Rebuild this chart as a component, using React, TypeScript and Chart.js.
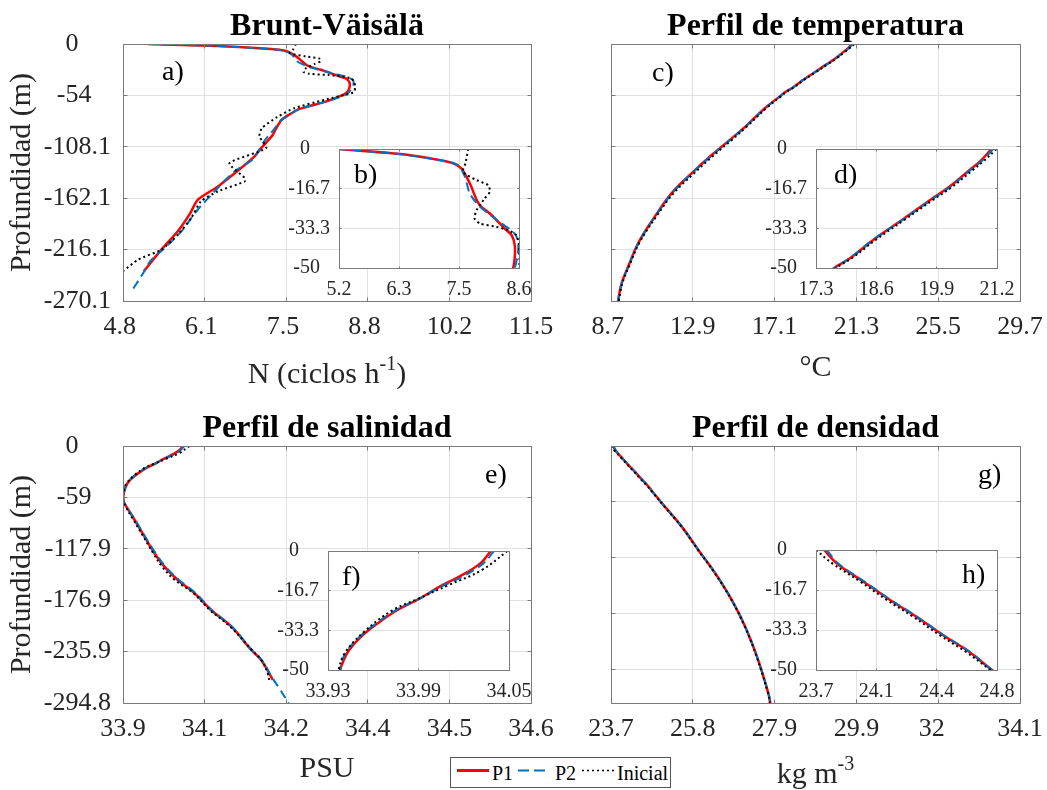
import React, { useEffect, useRef } from 'react';
import { Chart, registerables } from 'chart.js';

Chart.register(...registerables);

const FONT = '"Liberation Serif", "Times New Roman", Times, serif';
const RED = '#ff0000';
const BLUE = '#0072bd';
const BLACK = '#000000';
const GRID = '#e1e1e1';
const BOX = '#7a7a7a';
const TXT = '#262626';

// ---------- Brunt-Väisälä (N, ciclos h-1) ----------
const bvRange = [4.8, 11.5];
const bvDepthRange = [-270.125, 0];
const bvTicks = ['4.8', '6.1', '7.5', '8.8', '10.2', '11.5'];
const bvDepthTicks = ['0', '-54', '-108.1', '-162.1', '-216.1', '-270.1'];
const bvInsetRange = [5.2, 8.6];
const bvInsetTicks = ['5.2', '6.3', '7.5', '8.6'];

const bvDepthP1 = [0, -2.1, -4.4, -6, -8.1, -11.7, -15.9, -21.5, -24.3, -27.1, -33.4, -36.2, -40.4, -45.4, -50, -52.9, -60.6, -68.7, -74.6, -80, -90.4, -95.5, -109.4, -118.2, -130.4, -149.7, -163.6, -179.4, -196.9, -216.1, -238.9];
const bvP1 = [5.2, 6.35, 7.04, 7.36, 7.51, 7.61, 7.7, 7.8, 7.89, 8.05, 8.33, 8.46, 8.52, 8.52, 8.49, 8.43, 8.13, 7.68, 7.52, 7.4, 7.3, 7.26, 7.07, 6.96, 6.74, 6.36, 6.03, 5.89, 5.7, 5.43, 5.14];

const bvDepthP2 = [0, -2.1, -4.4, -6, -7.4, -11.7, -18.7, -23.6, -27.1, -31.3, -34.8, -38.3, -44, -50, -54, -60.6, -68.7, -80, -90.4, -102, -110.8, -122, -132.5, -145, -158.7, -170, -183, -193, -203, -216, -228, -240, -252, -260];
const bvP2 = [5.2, 6.35, 7.04, 7.36, 7.48, 7.58, 7.67, 7.83, 8.02, 8.27, 8.49, 8.58, 8.58, 8.52, 8.44, 8.13, 7.68, 7.4, 7.27, 7.12, 7.04, 6.92, 6.66, 6.45, 6.25, 6.08, 5.92, 5.81, 5.67, 5.46, 5.25, 5.14, 5.02, 4.94];

const bvDepthIni = [0, -6, -9.6, -13.1, -15.2, -18, -20.8, -25.7, -29.2, -31.3, -32.7, -34.1, -36.2, -40.4, -45.4, -50, -51.7, -58.7, -67.5, -76.9, -88.5, -97.2, -109.4, -125.2, -140.9, -144.4, -154.9, -165.4, -182.9, -200.4, -216.1, -226.6, -238.9];
const bvIni = [7.64, 7.59, 7.54, 7.8, 8.02, 8.05, 7.95, 7.8, 7.76, 7.86, 8.17, 8.39, 8.55, 8.6, 8.61, 8.6, 8.55, 8.11, 7.61, 7.33, 7.08, 7.04, 7.15, 6.55, 6.8, 6.8, 6.36, 6.08, 5.92, 5.7, 5.43, 5.05, 4.8];

// ---------- Temperatura (°C) ----------
const tRange = [8.7, 29.7];
const tDepthRange = [-270.125, 0];
const tTicks = ['8.7', '12.9', '17.1', '21.3', '25.5', '29.7'];
const tDepthTicks = ['0', '-54', '-108.1', '-162.1', '-216.1', '-270.1'];
const tInsetRange = [17.3, 21.2];
const tInsetTicks = ['17.3', '18.6', '19.9', '21.2'];

const tDepth = [0, -5.3, -8.8, -15.8, -21.4, -29.7, -38.1, -45.8, -50, -55.3, -67.5, -86.8, -100.8, -118.3, -135.8, -156.7, -181.2, -209.2, -233.6, -251.1, -270];
const tP1 = [21.08, 20.83, 20.61, 20.18, 19.76, 19.16, 18.54, 18.04, 17.69, 17.35, 16.6, 15.6, 14.8, 13.78, 12.85, 11.82, 10.96, 10.1, 9.59, 9.25, 9.06];
const tP2 = [21.12, 20.86, 20.63, 20.2, 19.78, 19.17, 18.53, 18.03, 17.7, 17.37, 16.62, 15.61, 14.82, 13.8, 12.86, 11.84, 10.97, 10.11, 9.6, 9.26, 9.06];
const tIni = [21.19, 20.9, 20.68, 20.24, 19.82, 19.21, 18.59, 18.08, 17.73, 17.41, 16.67, 15.67, 14.9, 13.9, 12.97, 11.92, 11.03, 10.15, 9.63, 9.29, 9.1];

// ---------- Salinidad (PSU) ----------
const sRange = [33.935, 34.635];
const sDepthRange = [-294.84, 0];
const sTicks = ['33.9', '34.1', '34.2', '34.4', '34.5', '34.6'];
const sDepthTicks = ['0', '-59', '-117.9', '-176.9', '-235.9', '-294.8'];
const sInsetRange = [33.93, 34.05];
const sInsetTicks = ['33.93', '33.99', '34.05'];

const sDepthP1 = [0, -5.2, -10.8, -15, -19.9, -24.8, -30.4, -36, -41.6, -46.5, -50, -54.3, -60, -65, -69.2, -84.9, -104, -123.1, -138.4, -153.7, -169, -188.1, -207.3, -234, -245.5, -264.6, -268.4];
const sP1 = [34.038, 34.031, 34.017, 34.004, 33.991, 33.976, 33.963, 33.952, 33.944, 33.94, 33.938, 33.9362, 33.9355, 33.937, 33.9405, 33.955, 33.972, 33.989, 34.006, 34.029, 34.058, 34.086, 34.121, 34.155, 34.172, 34.189, 34.192];

const sDepthP2 = [0, -5.2, -10.8, -15, -19.9, -24.8, -30.4, -36, -41.6, -46.5, -50, -54.3, -60, -65, -69.2, -84.9, -104, -123.1, -138.4, -153.7, -169, -188.1, -207.3, -234, -245.5, -264.6, -280, -295];
const sP2 = [34.04, 34.033, 34.019, 34.005, 33.991, 33.975, 33.962, 33.951, 33.943, 33.939, 33.938, 33.9362, 33.9355, 33.937, 33.9405, 33.956, 33.973, 33.991, 34.008, 34.031, 34.06, 34.087, 34.122, 34.156, 34.173, 34.19, 34.205, 34.219];

const sDepthIni = [0, -8, -14.3, -20.3, -24.8, -33.9, -43, -50, -54.3, -60, -65, -69.2, -84.9, -104, -123.1, -138.4, -153.7, -169, -188.1, -207.3, -234, -245.5, -262, -272];
const sIni = [34.049, 34.032, 34.01, 33.989, 33.973, 33.954, 33.941, 33.937, 33.9355, 33.935, 33.9365, 33.939, 33.953, 33.97, 33.987, 34.002, 34.024, 34.056, 34.084, 34.119, 34.156, 34.172, 34.184, 34.186];

// ---------- Densidad (kg m-3) ----------
const dRange = [23.7, 34.1];
const dDepthRange = [-276, 0];
const dTicks = ['23.7', '25.8', '27.9', '29.9', '32', '34.1'];
const dDepthTicks = ['0', '-60', '-120', '-180', '-240'];
const dInsetRange = [23.7, 24.8];
const dInsetTicks = ['23.7', '24.1', '24.4', '24.8'];

const dDepth = [0, -5.6, -13.2, -20.8, -27.8, -35.4, -42.4, -50, -65.1, -86.6, -111.6, -136.6, -165.2, -193.8, -226, -265.3, -276];
const dP1 = [23.75, 23.827, 23.989, 24.15, 24.31, 24.47, 24.63, 24.77, 25.07, 25.5, 25.92, 26.35, 26.77, 27.11, 27.41, 27.7, 27.75];
const dP2 = [23.765, 23.835, 23.995, 24.155, 24.315, 24.475, 24.635, 24.77, 25.07, 25.5, 25.92, 26.35, 26.77, 27.11, 27.41, 27.7, 27.75];
const dIni = [23.7, 23.8, 23.97, 24.13, 24.29, 24.45, 24.61, 24.76, 25.06, 25.49, 25.91, 26.34, 26.76, 27.1, 27.4, 27.69, 27.74];

// ---------- Inset depth axis ----------
const insetDepthRange = [-50, 0];
const insetDepthTicks = ['0', '-16.7', '-33.3', '-50'];

const seriesNames = ['P1', 'P2', 'Inicial'];

type Part = { t: string; sup?: boolean };
type Cfg = {
  left: number; top: number; w: number; h: number;
  area: { l: number; t: number; r: number; b: number };
  xRange: number[]; yRange: number[];
  xTicks: string[]; yTicks: string[]; yTickValues?: number[];
  showYTicks: boolean;
  tickSize: number; xPad: number; yPad: number; tickLen: number;
  p1: [number[], number[]]; p2: [number[], number[]]; ini: [number[], number[]];
  tension: number; inset: boolean;
  title?: { text: string; y: number };
  letter: { text: string; x: number; y: number };
  yTitle?: { text: string; x: number };
  xTitle?: { parts: Part[]; y: number };
};

function evenValues(range: number[], n: number, desc: boolean) {
  const [mn, mx] = range;
  return Array.from({ length: n }, (_, i) =>
    desc ? mx - (i * (mx - mn)) / (n - 1) : mn + (i * (mx - mn)) / (n - 1)
  );
}

function padLabels(labels: string[]) {
  const w = Math.max(...labels.map((l) => l.length));
  return labels.map((l) => l.padEnd(w, ' '));
}

function toPoints(xs: number[], ys: number[]) {
  return xs.map((x, i) => ({ x, y: ys[i] }));
}

function align(p: number) {
  return Math.round(p - 0.5) + 0.5;
}

function makeDecor(cfg: Cfg) {
  return {
    id: 'decor',
    beforeDraw(chart: any) {
      if (!cfg.inset) return;
      const { ctx, chartArea: a } = chart;
      ctx.save();
      ctx.fillStyle = '#ffffff';
      ctx.fillRect(a.left, a.top, a.right - a.left, a.bottom - a.top);
      ctx.restore();
    },
    afterDraw(chart: any) {
      const { ctx, chartArea: a, scales } = chart;
      const ox = cfg.left;
      const oy = cfg.top;
      ctx.save();
      const L = align(a.left), R = align(a.right), T = align(a.top), B = align(a.bottom);
      ctx.strokeStyle = BOX;
      ctx.lineWidth = 1;
      ctx.beginPath();
      const tl = cfg.tickLen;
      for (const t of scales.x.ticks) {
        const px = align(scales.x.getPixelForValue(t.value));
        ctx.moveTo(px, B); ctx.lineTo(px, B - tl);
        ctx.moveTo(px, T); ctx.lineTo(px, T + tl);
      }
      for (const t of scales.y.ticks) {
        const py = align(scales.y.getPixelForValue(t.value));
        ctx.moveTo(L, py); ctx.lineTo(L + tl, py);
        ctx.moveTo(R, py); ctx.lineTo(R - tl, py);
      }
      ctx.stroke();
      ctx.strokeRect(L, T, R - L, B - T);

      ctx.textBaseline = 'alphabetic';
      if (cfg.title) {
        ctx.fillStyle = '#000';
        ctx.font = `bold 32px ${FONT}`;
        ctx.textAlign = 'center';
        ctx.fillText(cfg.title.text, (a.left + a.right) / 2, cfg.title.y - oy);
      }
      ctx.fillStyle = '#000';
      ctx.font = `28px ${FONT}`;
      ctx.textAlign = 'left';
      ctx.fillText(cfg.letter.text, cfg.letter.x - ox, cfg.letter.y - oy);

      if (cfg.yTitle) {
        ctx.save();
        ctx.fillStyle = TXT;
        ctx.translate(cfg.yTitle.x - ox, (a.top + a.bottom) / 2);
        ctx.rotate(-Math.PI / 2);
        ctx.font = `30px ${FONT}`;
        ctx.textAlign = 'center';
        ctx.fillText(cfg.yTitle.text, 0, 0);
        ctx.restore();
      }
      if (cfg.xTitle) {
        ctx.fillStyle = TXT;
        ctx.textAlign = 'left';
        const parts = cfg.xTitle.parts;
        const fonts = parts.map((p) => (p.sup ? `20px ${FONT}` : `30px ${FONT}`));
        const widths = parts.map((p, i) => {
          ctx.font = fonts[i];
          return ctx.measureText(p.t).width;
        });
        const total = widths.reduce((s, v) => s + v, 0);
        let x = (a.left + a.right) / 2 - total / 2;
        const y = cfg.xTitle.y - oy;
        parts.forEach((p, i) => {
          ctx.font = fonts[i];
          ctx.fillText(p.t, x, p.sup ? y - 13 : y);
          x += widths[i];
        });
      }
      ctx.restore();
    },
  };
}

function makeChart(canvas: HTMLCanvasElement, cfg: Cfg) {
  const a = cfg.area;
  const padTop = a.t - cfg.top;
  const padRight = cfg.left + cfg.w - a.r;
  const yW = a.l - cfg.left;
  const xH = cfg.top + cfg.h - a.b;
  const xVals = evenValues(cfg.xRange, cfg.xTicks.length, false);
  const yVals = cfg.yTickValues ?? evenValues(cfg.yRange, cfg.yTicks.length, true);
  const xLab = padLabels(cfg.xTicks);
  const yLab = padLabels(cfg.yTicks);
  const font = { family: FONT, size: cfg.tickSize, lineHeight: 1.2 };

  const base = { showLine: true, pointRadius: 0, pointHoverRadius: 0, fill: false, tension: cfg.tension };
  const datasets = [
    { ...base, label: seriesNames[0], data: toPoints(cfg.p1[0], cfg.p1[1]), borderColor: RED, backgroundColor: RED, borderWidth: 2.5, order: 3 },
    { ...base, label: seriesNames[1], data: toPoints(cfg.p2[0], cfg.p2[1]), borderColor: BLUE, backgroundColor: BLUE, borderWidth: 2, borderDash: [9, 5], order: 2 },
    { ...base, label: seriesNames[2], data: toPoints(cfg.ini[0], cfg.ini[1]), borderColor: BLACK, backgroundColor: BLACK, borderWidth: 2, borderDash: [2, 3], order: 1 },
  ];

  return new Chart(canvas, {
    type: 'scatter',
    data: { datasets },
    options: {
      responsive: false,
      animation: false,
      devicePixelRatio: 1,
      events: [],
      layout: { padding: { top: padTop, right: padRight, left: 0, bottom: 0 } },
      plugins: { legend: { display: false }, tooltip: { enabled: false }, title: { display: false } },
      scales: {
        x: {
          type: 'linear',
          position: 'bottom',
          min: cfg.xRange[0],
          max: cfg.xRange[1],
          afterBuildTicks: (s: any) => { s.ticks = xVals.map((v) => ({ value: v })); },
          afterFit: (s: any) => { s.height = xH; },
          ticks: {
            autoSkip: false, maxRotation: 0, minRotation: 0, padding: cfg.xPad,
            color: TXT, font,
            callback: (_v: any, i: number) => xLab[i],
          },
          grid: { color: GRID, lineWidth: 1, drawTicks: false },
          border: { display: false },
        },
        y: {
          type: 'linear',
          position: 'left',
          min: cfg.yRange[0],
          max: cfg.yRange[1],
          afterBuildTicks: (s: any) => { s.ticks = yVals.map((v) => ({ value: v })); },
          afterFit: (s: any) => { s.width = yW; },
          ticks: {
            display: cfg.showYTicks, autoSkip: false, padding: cfg.yPad,
            color: TXT, font,
            callback: (_v: any, i: number) => yLab[i],
          },
          grid: { color: GRID, lineWidth: 1, drawTicks: false },
          border: { display: false },
        },
      },
    } as any,
    plugins: [makeDecor(cfg)],
  } as any);
}

function Panel({ cfg }: { cfg: Cfg }) {
  const ref = useRef<HTMLCanvasElement>(null);
  useEffect(() => {
    if (!ref.current) return;
    const chart = makeChart(ref.current, cfg);
    return () => chart.destroy();
  }, [cfg]);
  return (
    <canvas
      ref={ref}
      width={cfg.w}
      height={cfg.h}
      style={{ position: 'absolute', left: cfg.left, top: cfg.top, width: cfg.w, height: cfg.h }}
    />
  );
}

const mainCommon = { tickSize: 26, xPad: 11, yPad: 12, tickLen: 4, inset: false };
const insetCommon = { tickSize: 20, xPad: 10, yPad: 9, tickLen: 2, inset: true, showYTicks: true };

const panels: Cfg[] = [
  {
    ...mainCommon,
    left: 0, top: 0, w: 568, h: 400, area: { l: 123, t: 44, r: 531, b: 301 },
    xRange: bvRange, yRange: bvDepthRange, xTicks: bvTicks, yTicks: bvDepthTicks, showYTicks: true,
    p1: [bvP1, bvDepthP1], p2: [bvP2, bvDepthP2], ini: [bvIni, bvDepthIni], tension: 0.2,
    title: { text: 'Brunt-Väisälä', y: 35 },
    letter: { text: 'a)', x: 162, y: 80 },
    yTitle: { text: 'Profundidad (m)', x: 30 },
    xTitle: { parts: [{ t: 'N (ciclos h' }, { t: '-1', sup: true }, { t: ')' }], y: 383 },
  },
  {
    ...mainCommon,
    left: 560, top: 0, w: 497, h: 400, area: { l: 611, t: 44, r: 1020, b: 301 },
    xRange: tRange, yRange: tDepthRange, xTicks: tTicks, yTicks: tDepthTicks, showYTicks: false,
    p1: [tP1, tDepth], p2: [tP2, tDepth], ini: [tIni, tDepth], tension: 0.4,
    title: { text: 'Perfil de temperatura', y: 35 },
    letter: { text: 'c)', x: 652, y: 81 },
    xTitle: { parts: [{ t: '°C' }], y: 376 },
  },
  {
    ...mainCommon,
    left: 0, top: 400, w: 568, h: 390, area: { l: 123, t: 446, r: 531, b: 703 },
    xRange: sRange, yRange: sDepthRange, xTicks: sTicks, yTicks: sDepthTicks, showYTicks: true,
    p1: [sP1, sDepthP1], p2: [sP2, sDepthP2], ini: [sIni, sDepthIni], tension: 0.4,
    title: { text: 'Perfil de salinidad', y: 437 },
    letter: { text: 'e)', x: 485, y: 483 },
    yTitle: { text: 'Profundidad (m)', x: 30 },
    xTitle: { parts: [{ t: 'PSU' }], y: 777 },
  },
  {
    ...mainCommon,
    left: 560, top: 400, w: 497, h: 390, area: { l: 611, t: 446, r: 1020, b: 703 },
    xRange: dRange, yRange: dDepthRange, xTicks: dTicks, yTicks: dDepthTicks,
    yTickValues: dDepthTicks.map(Number), showYTicks: false,
    p1: [dP1, dDepth], p2: [dP2, dDepth], ini: [dIni, dDepth], tension: 0.4,
    title: { text: 'Perfil de densidad', y: 437 },
    letter: { text: 'g)', x: 978, y: 483 },
    xTitle: { parts: [{ t: 'kg m' }, { t: '-3', sup: true }], y: 783 },
  },
  {
    ...insetCommon,
    left: 270, top: 125, w: 276, h: 185, area: { l: 339, t: 149, r: 519, b: 268 },
    xRange: bvInsetRange, yRange: insetDepthRange, xTicks: bvInsetTicks, yTicks: insetDepthTicks,
    p1: [bvP1, bvDepthP1], p2: [bvP2, bvDepthP2], ini: [bvIni, bvDepthIni], tension: 0.2,
    letter: { text: 'b)', x: 354, y: 183 },
  },
  {
    ...insetCommon,
    left: 746, top: 125, w: 282, h: 185, area: { l: 816, t: 149, r: 997, b: 268 },
    xRange: tInsetRange, yRange: insetDepthRange, xTicks: tInsetTicks, yTicks: insetDepthTicks,
    p1: [tP1, tDepth], p2: [tP2, tDepth], ini: [tIni, tDepth], tension: 0.4,
    letter: { text: 'd)', x: 834, y: 183 },
  },
  {
    ...insetCommon,
    left: 259, top: 527, w: 286, h: 185, area: { l: 328, t: 551, r: 509, b: 670 },
    xRange: sInsetRange, yRange: insetDepthRange, xTicks: sInsetTicks, yTicks: insetDepthTicks,
    p1: [sP1, sDepthP1], p2: [sP2, sDepthP2], ini: [sIni, sDepthIni], tension: 0.4,
    letter: { text: 'f)', x: 342, y: 585 },
  },
  {
    ...insetCommon,
    left: 746, top: 526, w: 282, h: 186, area: { l: 816, t: 550, r: 997, b: 670 },
    xRange: dInsetRange, yRange: insetDepthRange, xTicks: dInsetTicks, yTicks: insetDepthTicks,
    p1: [dP1, dDepth], p2: [dP2, dDepth], ini: [dIni, dDepth], tension: 0.4,
    letter: { text: 'h)', x: 962, y: 583 },
  },
];

function Legend() {
  const txt = { fontFamily: FONT, fontSize: 20, fill: '#000' } as any;
  return (
    <svg
      width={221}
      height={31}
      style={{ position: 'absolute', left: 450, top: 757 }}
    >
      <rect x={0.5} y={0.5} width={220} height={30} fill="#ffffff" stroke="#555555" strokeWidth={1} />
      <line x1={7} x2={39} y1={13.5} y2={13.5} stroke={RED} strokeWidth={3} />
      <text x={42} y={23} {...txt}>{seriesNames[0]}</text>
      <line x1={68} x2={95} y1={13.5} y2={13.5} stroke={BLUE} strokeWidth={2} strokeDasharray="11 5" />
      <text x={105} y={23} {...txt}>{seriesNames[1]}</text>
      <line x1={132} x2={165} y1={13.5} y2={13.5} stroke={BLACK} strokeWidth={1.5} strokeDasharray="2 3" />
      <text x={167} y={23} {...txt}>{seriesNames[2]}</text>
    </svg>
  );
}

export default function App() {
  return (
    <div
      style={{
        position: 'absolute', left: 0, top: 0, width: 1047, height: 790,
        background: '#ffffff', overflow: 'hidden',
      }}
    >
      {panels.map((p, i) => (
        <Panel key={i} cfg={p} />
      ))}
      <Legend />
    </div>
  );
}
